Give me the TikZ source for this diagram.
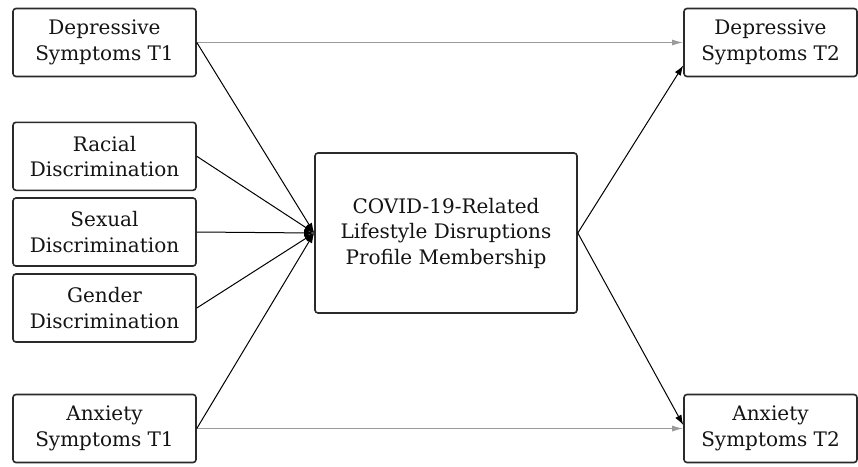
\documentclass[tikz,border=0pt]{standalone}
\usepackage{fontspec}
\setmainfont{DejaVu Serif}
\usetikzlibrary{arrows.meta,calc}
\definecolor{boxline}{HTML}{2A2A2A}
\definecolor{grayline}{HTML}{9A9A9A}
\tikzset{
  varbox/.style={draw=boxline, line width=1.6pt, rounded corners=3pt, fill=white,
    align=center, inner sep=0pt, font=\fontsize{20}{25.5}\selectfont, text=black!92},
  sidebox/.style={varbox, minimum width=183pt, minimum height=68pt},
  blackarrow/.style={line width=1pt, draw=black, -{Latex[length=10pt,width=7pt]}},
  grayarrow/.style={line width=1.2pt, draw=grayline, -{Latex[length=11pt,width=6pt]}}
}
\begin{document}
\begin{tikzpicture}[x=1pt,y=-1pt]
\useasboundingbox (0,0) rectangle (858,466);
\node[sidebox] (d1) at (104.5,42.5) {Depressive\\Symptoms T1};
\node[sidebox] (rd) at (104.5,156.3) {Racial\\Discrimination};
\node[sidebox] (sd) at (104.5,232) {Sexual\\Discrimination};
\node[sidebox] (gd) at (104.5,308) {Gender\\Discrimination};
\node[sidebox] (a1) at (104.5,428.5) {Anxiety\\Symptoms T1};
\node[varbox, minimum width=262pt, minimum height=160pt] (c) at (446,233) {COVID-19-Related\\Lifestyle Disruptions\\Profile Membership};
\node[varbox, minimum width=173pt, minimum height=68pt] (d2) at (770.5,42.5) {Depressive\\Symptoms T2};
\node[varbox, minimum width=173pt, minimum height=68pt] (a2) at (770.5,428.5) {Anxiety\\Symptoms T2};
\coordinate (d2in) at ($(d2.west)!0.66!(d2.south west)$);
\coordinate (a2in) at ($(a2.west)!0.1!(a2.north west)$);
\draw[grayarrow] (d1.east) -- (d2.west);
\draw[grayarrow] (a1.east) -- (a2.west);
\foreach \n in {d1,rd,sd,gd,a1} \draw[blackarrow] (\n.east) -- (c.west);
\draw[blackarrow] (c.east) -- (d2in);
\draw[blackarrow] (c.east) -- (a2in);
\end{tikzpicture}
\end{document}
